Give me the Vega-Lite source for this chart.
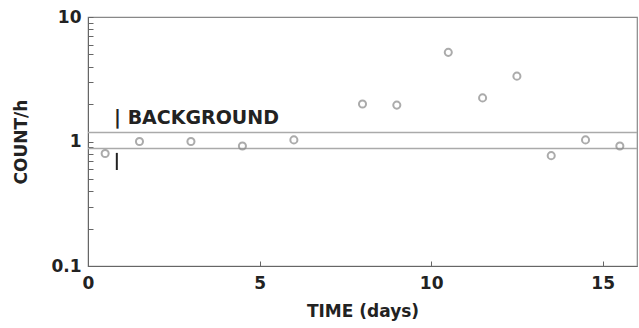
{
  "$schema": "https://vega.github.io/schema/vega-lite/v6.json",
  "width": 549,
  "height": 249,
  "autosize": {"type": "none"},
  "padding": {"left": 88, "top": 17, "right": 2, "bottom": 62},
  "background": "white",
  "config": {
    "view": {"stroke": "#888", "strokeWidth": 1.2},
    "font": "DejaVu Sans",
    "axis": {"grid": false, "domainColor": "#666", "tickColor": "#666", "labelColor": "#222", "titleColor": "#222", "labelFont": "DejaVu Sans", "titleFont": "DejaVu Sans", "labelFontWeight": "bold", "titleFontWeight": "bold"}
  },
  "datasets": {
    "pts": [
      {"t": 0.5, "c": 0.80}, {"t": 1.5, "c": 1.0}, {"t": 3.0, "c": 1.0}, {"t": 4.5, "c": 0.92},
      {"t": 6.0, "c": 1.03}, {"t": 8.0, "c": 2.0}, {"t": 9.0, "c": 1.96}, {"t": 10.5, "c": 5.2},
      {"t": 11.5, "c": 2.24}, {"t": 12.5, "c": 3.35}, {"t": 13.5, "c": 0.77}, {"t": 14.5, "c": 1.03},
      {"t": 15.5, "c": 0.92}
    ],
    "bg": [{"c": 1.18}, {"c": 0.88}],
    "lbl": [{"t": 0.76, "c": 1.55, "txt": "| BACKGROUND"}],
    "bar": [{"t": 0.84, "lo": 0.59, "hi": 0.81}]
  },
  "layer": [
    {
      "data": {"name": "bg"},
      "mark": {"type": "rule", "color": "#aaa", "strokeWidth": 1.5},
      "encoding": {
        "y": {"field": "c", "type": "quantitative", "scale": {"type": "log", "domain": [0.1, 10]}}
      }
    },
    {
      "data": {"name": "pts"},
      "mark": {"type": "point", "shape": "circle", "filled": false, "color": "#888", "size": 50, "strokeWidth": 2},
      "encoding": {
        "x": {"field": "t", "type": "quantitative", "scale": {"domain": [0, 16], "nice": false},
          "axis": {"values": [0, 5, 10, 15], "tickSize": -5, "labelFontSize": 17, "labelPadding": 14, "title": "TIME (days)", "titleFontSize": 17, "titlePadding": 12, "labelFlush": false}},
        "y": {"field": "c", "type": "quantitative", "scale": {"type": "log", "domain": [0.1, 10]},
          "axis": {"values": [0.1, 0.2, 0.3, 0.4, 0.5, 0.6, 0.7, 0.8, 0.9, 1, 2, 3, 4, 5, 6, 7, 8, 9, 10],
            "labelExpr": "datum.value == 0.1 ? '0.1' : datum.value == 1 ? '1' : datum.value == 10 ? '10' : ''",
            "tickSize": -5, "labelFontSize": 17, "labelPadding": 12, "title": "COUNT/h", "titleFontSize": 17, "titlePadding": 20}}
      }
    },
    {
      "data": {"name": "lbl"},
      "mark": {"type": "text", "align": "left", "baseline": "middle", "fontSize": 19, "fontWeight": "bold", "color": "#222", "font": "DejaVu Sans"},
      "encoding": {
        "x": {"field": "t", "type": "quantitative"},
        "y": {"field": "c", "type": "quantitative"},
        "text": {"field": "txt"}
      }
    },
    {
      "data": {"name": "bar"},
      "mark": {"type": "rule", "color": "#222", "strokeWidth": 2},
      "encoding": {
        "x": {"field": "t", "type": "quantitative"},
        "y": {"field": "lo", "type": "quantitative"},
        "y2": {"field": "hi"}
      }
    }
  ]
}
